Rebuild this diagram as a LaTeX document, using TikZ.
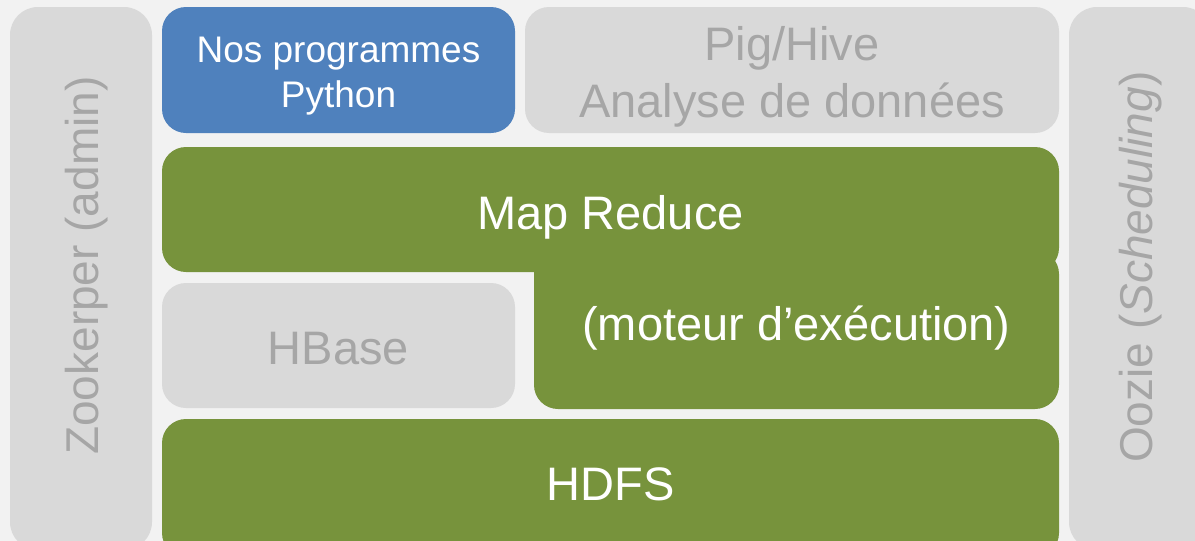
\documentclass[tikz,border=0pt]{standalone}
\usepackage{fontspec}
\setmainfont{Liberation Sans}
\definecolor{pagebg}{HTML}{F2F2F2}
\definecolor{boxgrey}{HTML}{D9D9D9}
\definecolor{textgrey}{HTML}{A6A6A6}
\definecolor{pyblue}{HTML}{4F81BD}
\definecolor{hgreen}{HTML}{77933C}
\tikzset{
  layer/.style={rounded corners=24pt, inner sep=0pt, draw=none},
  greylayer/.style={layer, fill=boxgrey},
  greenlayer/.style={layer, fill=hgreen},
  bluelayer/.style={layer, fill=pyblue},
  lbl/.style={inner sep=0pt, anchor=base},
  bigtext/.style={lbl, font=\fontsize{47}{57}\selectfont},
  pytext/.style={lbl, font=\fontsize{37}{45}\selectfont, text=white},
  sidetext/.style={inner sep=0pt, font=\fontsize{46}{55}\selectfont, text=textgrey, rotate=90, anchor=base west},
}
\begin{document}
\begin{tikzpicture}[x=1pt,y=-1pt]
\useasboundingbox (0,0) rectangle (1195,541);
\fill[pagebg] (0,0) rectangle (1195,541);
\clip (0,0) rectangle (1195,541);

% side columns
\node[greylayer, rounded corners=28pt, minimum width=142pt, minimum height=543pt] (zk) at (81,278.5) {};
\node[sidetext] (zklabel) at (98.5,455) {Zookerper (admin)};
\node[greylayer, rounded corners=28pt, minimum width=142pt, minimum height=543pt] (oozie) at (1140,278.5) {};
\node[sidetext] (oozielabel) at (1152,463) {Oozie (\textit{Scheduling})};

% top row
\node[bluelayer, minimum width=353pt, minimum height=126pt] (py) at (338.5,70) {};
\node[pytext] (py1) at (338.5,62) {Nos programmes};
\node[pytext] (py2) at (338.5,107) {Python};
\node[greylayer, minimum width=534pt, minimum height=126pt] (pig) at (792,70) {};
\node[bigtext, text=textgrey] (pig1) at (792,60) {Pig/Hive};
\node[bigtext, text=textgrey] (pig2) at (792,117) {Analyse de données};

% Map Reduce: two overlapping blocks
\node[greenlayer, minimum width=525pt, minimum height=159pt] (mrlow) at (796.5,329.5) {};
\node[greenlayer, minimum width=897pt, minimum height=125pt] (mr) at (610.5,209.5) {};
\node[bigtext, text=white] (mr1) at (610.5,229) {Map Reduce};
\node[bigtext, text=white] (mr2) at (796.5,340) {(moteur d’exécution)};

% HBase and HDFS
\node[greylayer, minimum width=353pt, minimum height=125pt] (hbase) at (338.5,345.5) {};
\node[bigtext, text=textgrey] (hbase1) at (338.5,364) {HBase};
\node[greenlayer, minimum width=897pt, minimum height=138pt] (hdfs) at (610.5,488) {};
\node[bigtext, text=white] (hdfs1) at (610.5,500) {HDFS};
\end{tikzpicture}
\end{document}
